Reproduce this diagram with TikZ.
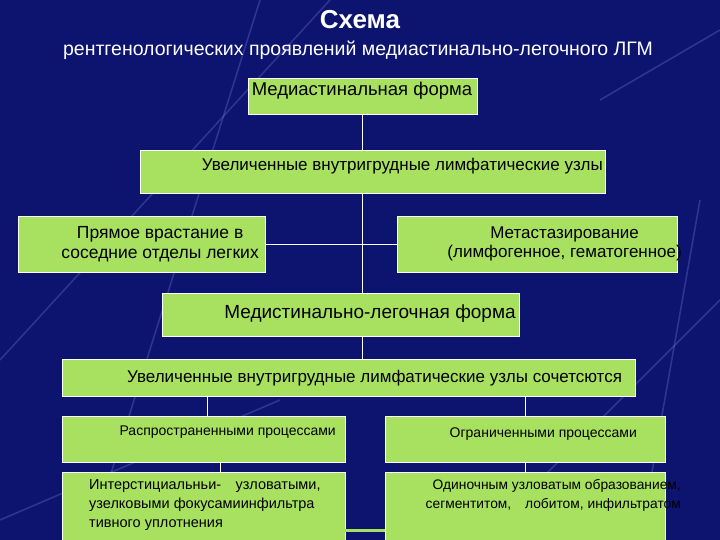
\documentclass[tikz,border=0pt]{standalone}
\usepackage{fontspec}
\setmainfont{Liberation Sans}
\begin{document}
\begin{tikzpicture}[x=1pt,y=-1pt,
  box/.style={draw=white,line width=0.8pt,fill=lgreen,inner sep=0pt,anchor=north west},
  con/.style={draw=white,line width=0.8pt},
  lbl/.style={font=\fontsize{17}{19}\selectfont,text=black,align=center,inner sep=1pt},
  sml/.style={font=\fontsize{14}{17}\selectfont,text=black,align=left,inner sep=1pt}]
\definecolor{lgreen}{HTML}{A8E060}
\definecolor{bg}{HTML}{0C1470}
\fill[bg] (0,0) rectangle (720,540);
\useasboundingbox (0,0) rectangle (720,540);
\begin{scope}[draw=blue!40!white,opacity=0.25,line width=1.5pt]
\draw (0,360) -- (330,0);
\draw (90,540) -- (260,0);
\draw (480,540) -- (720,300);
\draw (600,100) -- (720,30);
\draw (0,520) -- (280,400);
\draw (640,540) -- (700,200);
\end{scope}
\node[text=white,font=\bfseries\fontsize{26}{28}\selectfont] (t1) at (360,20) {Схема};
\node[text=white,font=\fontsize{19.5}{22}\selectfont] (t2) at (358,50) {рентгенологических проявлений медиастинально-легочного ЛГМ};
\node[box,minimum width=229pt,minimum height=36pt] (b1) at (248,78) {};
\node[lbl,font=\fontsize{18.5}{20}\selectfont] at (362,91) {Медиастинальная форма};
\node[box,minimum width=465pt,minimum height=43pt] (b2) at (140,150) {};
\node[lbl,anchor=north east] at (604,157) {Увеличенные внутригрудные лимфатические узлы};
\node[box,minimum width=247pt,minimum height=56pt] (b3) at (18,216) {};
\node[lbl,font=\fontsize{17.5}{20}\selectfont,anchor=east] at (260,244) {Прямое врастание в\\соседние отделы легких};
\node[box,minimum width=280pt,minimum height=56pt] (b4) at (397,216) {};
\node[lbl,anchor=east] at (683,244) {Метастазирование\\(лимфогенное, гематогенное)};
\node[box,minimum width=357pt,minimum height=43pt] (b5) at (162,293) {};
\node[lbl,font=\fontsize{19}{21}\selectfont] at (370,314) {Медистинально-легочная форма};
\node[box,minimum width=573pt,minimum height=37pt] (b6) at (62,359) {};
\node[lbl,anchor=west] at (126,378) {Увеличенные внутригрудные лимфатические узлы сочетсются};
\node[box,minimum width=283pt,minimum height=46pt] (b7) at (62,416) {};
\node[sml,anchor=east] at (337,432) {Распространенными процессами};
\node[box,minimum width=280pt,minimum height=46pt] (b8) at (385,416) {};
\node[sml,anchor=east] at (638,434) {Ограниченными процессами};
\node[box,minimum width=283pt,minimum height=70pt] (b9) at (62,472) {};
\node[sml,anchor=north west,font=\fontsize{14.5}{19}\selectfont] at (88,478) {Интерстициальньи-\quad узловатыми,\\ узелковыми фокусамиинфильтра\\ тивного уплотнения};
\node[box,minimum width=280pt,minimum height=70pt] (b10) at (385,472) {};
\node[sml,anchor=north east,align=right,font=\fontsize{13.8}{19}\selectfont] at (682,478) {Одиночным узловатым образованием,\\сегментитом,\quad лобитом, инфильтратом};
\coordinate (c1) at (362,114);
\draw[con] (c1) -- (362,150);
\draw[con] (362,193) -- (362,293);
\draw[con] (b3.east) -- (b4.west);
\draw[con] (362,336) -- (362,359);
\draw[con] (207,396) -- (207,416);
\draw[con] (525,396) -- (525,416);
\draw[con] (220,462) -- (220,472);
\draw[con] (525,462) -- (525,472);
\draw[lgreen,line width=3pt] (345,530) -- (385,530);
\end{tikzpicture}
\end{document}
